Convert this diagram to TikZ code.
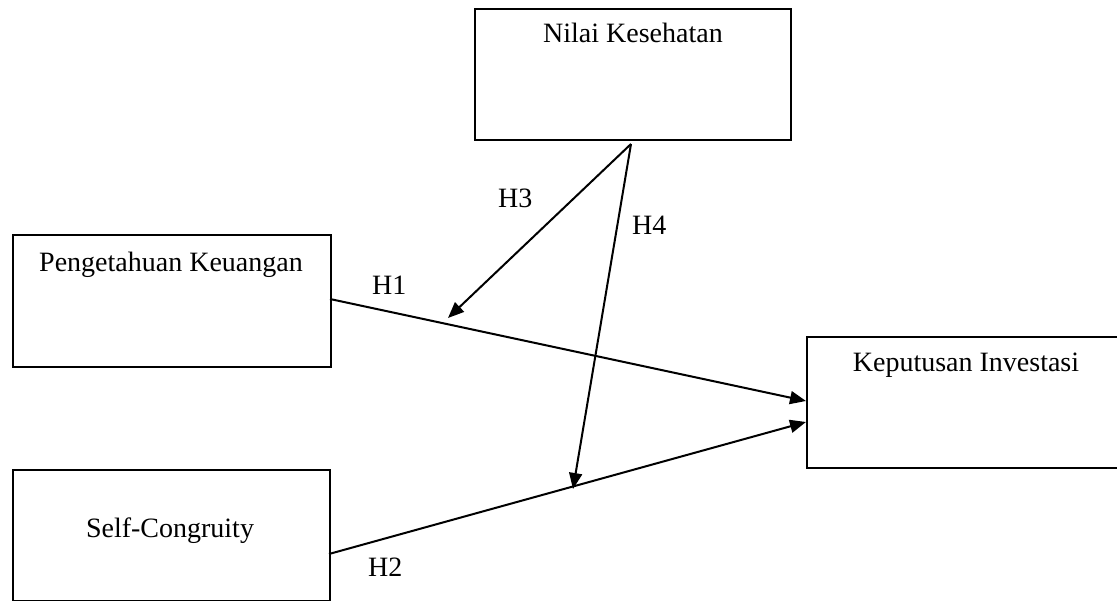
\documentclass[tikz,border=0pt]{standalone}
\usepackage{fontspec}
\setmainfont{Liberation Serif}
\usetikzlibrary{arrows.meta}
\begin{document}
\begin{tikzpicture}[x=1pt,y=-1pt,
  box/.style={draw=black, line width=2.2pt, rectangle, inner sep=0pt},
  lbl/.style={font=\fontsize{28}{32}\selectfont, inner sep=0pt},
  hlbl/.style={font=\fontsize{28}{32}\selectfont, inner sep=0pt, anchor=base west},
  conn/.style={draw=black, line width=2pt, -{Triangle[length=16pt,width=13pt]}}]
\useasboundingbox (0,0) rectangle (1117,601);
\clip (0,0) rectangle (1117,601);
% boxes
\node[box, minimum width=316pt, minimum height=131pt, anchor=north west] (nk) at (474,8) {};
\node[box, minimum width=318pt, minimum height=132pt, anchor=north west] (pk) at (12,234) {};
\node[box, minimum width=330pt, minimum height=131pt, anchor=north west] (ki) at (806,336) {};
\node[box, minimum width=317pt, minimum height=131pt, anchor=north west] (sc) at (12,469) {};
% box texts
\node[lbl, anchor=base] (tnk) at (633,43) {Nilai Kesehatan};
\node[lbl, anchor=base] (tpk) at (171,272) {Pengetahuan Keuangan};
\node[lbl, anchor=base] (tki) at (966,372) {Keputusan Investasi};
\node[lbl, anchor=base] (tsc) at (170,537) {Self-Congruity};
% hypothesis labels
\node[hlbl] (h1) at (372,295) {H1};
\node[hlbl] (h2) at (368,576) {H2};
\node[hlbl] (h3) at (498,208) {H3};
\node[hlbl] (h4) at (632,235) {H4};
% connector anchor points
\coordinate (pkout) at (330,299);
\coordinate (kiin1) at (806,401);
\coordinate (scout) at (329,554);
\coordinate (kiin2) at (806,422);
\coordinate (nkout) at (631,144);
\coordinate (m1) at (448,318);
\coordinate (m2) at (573,489);
% connectors
\draw[conn] (pkout) -- (kiin1);
\draw[conn] (scout) -- (kiin2);
\draw[conn, shorten <=0pt] (nkout) -- (m1);
\draw[conn] (nkout) -- (m2);
\end{tikzpicture}
\end{document}
